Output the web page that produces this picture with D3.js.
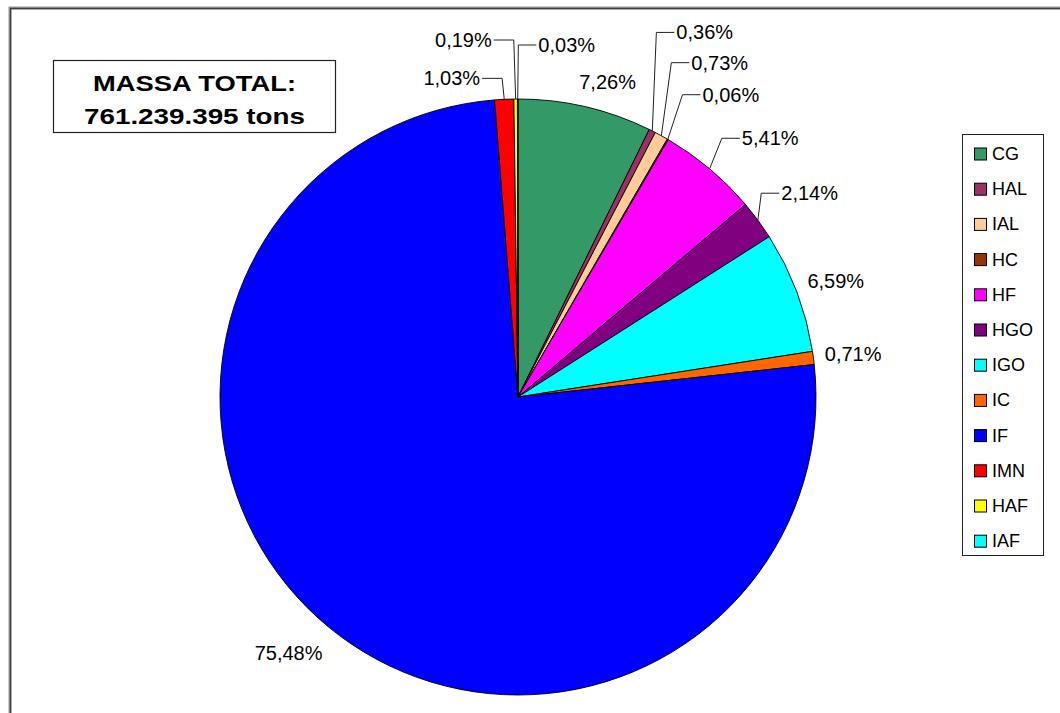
<!DOCTYPE html>
<html>
<head>
<meta charset="utf-8">
<script src="https://cdn.jsdelivr.net/npm/d3@7"></script>
<style>
  html, body { margin: 0; padding: 0; background: #fff; }
  svg { display: block; }
  text { font-family: Arial, "Liberation Sans", sans-serif; fill: #000; }
</style>
</head>
<body>
<svg id="chart" width="1060" height="713"></svg>
<script>
// Participação de cada tipologia na massa total (%)
const categories = ["CG", "HAL", "IAL", "HC", "HF", "HGO", "IGO", "IC", "IF", "IMN", "HAF", "IAF"];
const shares = [7.26, 0.36, 0.73, 0.06, 5.41, 2.14, 6.59, 0.71, 75.48, 1.03, 0.19, 0.03];
const colors = ["#339966", "#993366", "#FFCC99", "#993300", "#FF00FF", "#800080",
                "#00FFFF", "#FF6600", "#0000FF", "#FF0000", "#FFFF00", "#00FFFF"];
const titleLines = ["MASSA TOTAL:", "761.239.395 tons"];

// Rótulos com linha de chamada e deslocamento de cada rótulo em relação à posição radial
const leaderCats = ["HAL", "IAL", "HC", "HF", "HGO", "IMN", "HAF", "IAF"];
const labelNudge = {
  CG: [15, 6], HAL: [38, -70], IAL: [43, -45], HC: [47, -17], HF: [40, -6],
  HGO: [26, -8], IGO: [9, 0], IC: [8, 0], IF: [-19, 2], IMN: [-51, 11],
  HAF: [-52, -27], IAF: [49, -22]
};

const svg = d3.select("#chart");
const W = 1060, H = 713;
const cx = 518, cy = 397, R = 298, labelR = 330;

// Moldura da área do gráfico
svg.append("rect")
  .attr("x", 10).attr("y", 8).attr("width", W + 20).attr("height", H + 20)
  .attr("fill", "none").attr("stroke", "#9a9a9a").attr("stroke-width", 3);
svg.append("rect")
  .attr("x", 10.5).attr("y", 8.5).attr("width", W + 20).attr("height", H + 20)
  .attr("fill", "none").attr("stroke", "#404040").attr("stroke-width", 1.5);

const data = categories.map((c, i) => ({ cat: c, value: shares[i], color: colors[i] }));
const pie = d3.pie().sort(null).value(d => d.value);
const arcs = pie(data);
const arc = d3.arc().innerRadius(0).outerRadius(R);

const g = svg.append("g").attr("transform", `translate(${cx},${cy})`);
g.selectAll("path.slice")
  .data(arcs)
  .join("path")
  .attr("class", "slice")
  .attr("d", arc)
  .attr("fill", d => d.data.color)
  .attr("stroke", "#000")
  .attr("stroke-width", 0.9)
  .attr("stroke-linejoin", "round");

const fmt = v => d3.format(".2f")(v).replace(".", ",") + "%";
const polar = (a, r) => [Math.sin(a) * r, -Math.cos(a) * r];

const lab = g.append("g");
arcs.forEach(d => {
  const mid = (d.startAngle + d.endAngle) / 2;
  const [px, py] = polar(mid, labelR);
  const [nx, ny] = labelNudge[d.data.cat];
  const tx = px + nx, ty = py + ny;
  const t = lab.append("text")
    .attr("x", tx).attr("y", ty)
    .attr("text-anchor", "middle")
    .attr("dominant-baseline", "central")
    .attr("font-size", 20)
    .text(fmt(d.data.value));
  if (leaderCats.includes(d.data.cat)) {
    const w = t.node().getComputedTextLength();
    const [ex, ey] = polar(mid, R);
    const rightSide = tx > ex;
    const textEdge = rightSide ? tx - w / 2 - 2 : tx + w / 2 + 2;
    const elbowX = rightSide ? textEdge - 18 : textEdge + 20;
    lab.insert("polyline", ":first-child")
      .attr("points", [[ex, ey], [elbowX, ty], [textEdge, ty]].map(p => p.join(",")).join(" "))
      .attr("fill", "none")
      .attr("stroke", "#222")
      .attr("stroke-width", 1);
  }
});

// Caixa com a massa total
const box = svg.append("g");
box.append("rect")
  .attr("x", 53.5).attr("y", 60.5).attr("width", 282).attr("height", 72)
  .attr("fill", "#fff").attr("stroke", "#222").attr("stroke-width", 1.2);
box.selectAll("text")
  .data(titleLines)
  .join("text")
  .attr("x", 194.5)
  .attr("y", (d, i) => 83 + i * 33)
  .attr("text-anchor", "middle")
  .attr("dominant-baseline", "central")
  .attr("font-size", 22)
  .attr("font-weight", "bold")
  .attr("textLength", (d, i) => i === 0 ? 203 : 221)
  .attr("lengthAdjust", "spacingAndGlyphs")
  .text(d => d);

// Legenda
const legX = 962, legY = 134, legW = 81, step = 35.2;
const leg = svg.append("g");
leg.append("rect")
  .attr("x", legX + 0.5).attr("y", legY + 0.5).attr("width", legW).attr("height", 421)
  .attr("fill", "#fff").attr("stroke", "#222").attr("stroke-width", 1);
const items = leg.selectAll("g.item")
  .data(data)
  .join("g")
  .attr("class", "item")
  .attr("transform", (d, i) => `translate(${legX + 12},${legY + 19.5 + i * step})`);
items.append("rect")
  .attr("x", 0.5).attr("y", -5.5).attr("width", 12).attr("height", 12)
  .attr("fill", d => d.color).attr("stroke", "#000").attr("stroke-width", 1);
items.append("text")
  .attr("x", 18).attr("y", 0.5)
  .attr("dominant-baseline", "central")
  .attr("font-size", 18)
  .text(d => d.cat);
</script>
</body>
</html>
